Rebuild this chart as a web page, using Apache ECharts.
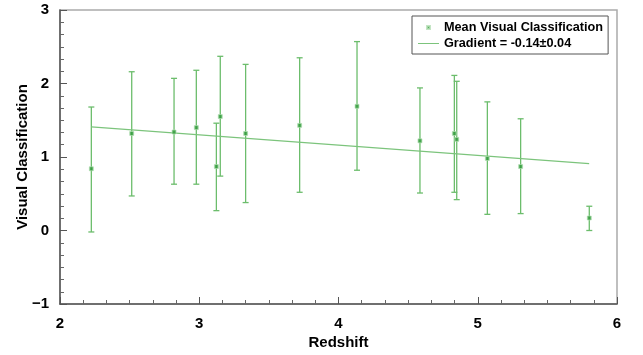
<!DOCTYPE html>
<html>
<head>
<meta charset="utf-8">
<script src="https://cdn.jsdelivr.net/npm/echarts@6/dist/echarts.min.js"></script>
<style>
html,body{margin:0;padding:0;background:#fff;}
#main{width:643px;height:355px;}
</style>
</head>
<body>
<div id="main"></div>
<script>
// 数据: 红移, 平均视觉分类, 误差上下限
var redshift = [2.225, 2.515, 2.819, 2.979, 3.123, 3.151, 3.333, 3.721, 4.133, 4.585, 4.832, 4.849, 5.069, 5.308, 5.801];
var meanClass = [0.84, 1.32, 1.34, 1.40, 0.87, 1.55, 1.32, 1.43, 1.69, 1.22, 1.32, 1.24, 0.98, 0.87, 0.17];
var upperErr = [1.68, 2.16, 2.07, 2.18, 1.46, 2.37, 2.26, 2.35, 2.57, 1.94, 2.11, 2.03, 1.75, 1.52, 0.33];
var lowerErr = [-0.02, 0.47, 0.63, 0.63, 0.27, 0.74, 0.38, 0.52, 0.82, 0.51, 0.52, 0.42, 0.22, 0.23, 0.00];
// 拟合直线端点
var fitLine = [[2.225, 1.41], [5.80, 0.91]];

var myChart = echarts.init(document.getElementById('main'));

var pts = [], bars = [];
for (var i = 0; i < redshift.length; i++) {
    pts.push([redshift[i], meanClass[i]]);
    bars.push([redshift[i], lowerErr[i], upperErr[i]]);
}

var font = 'Liberation Sans, Arial, Helvetica, sans-serif';
var axisCommon = {
    axisLine: {show: true, onZero: false, lineStyle: {color: '#555', width: 1.5}},
    axisTick: {show: true, inside: true, length: 7, lineStyle: {color: '#555'}},
    minorTick: {show: true, splitNumber: 6, length: 4, lineStyle: {color: '#666'}},
    splitLine: {show: false},
    axisLabel: {
        color: '#000', fontSize: 15, fontWeight: 'bold', fontFamily: font,
        formatter: function (v) { return String(v).replace('-', '\u2212'); }
    },
    nameTextStyle: {color: '#000', fontSize: 15, fontWeight: 'bold', fontFamily: font},
    nameLocation: 'middle',
    nameMoveOverlap: false
};

var option = {
    backgroundColor: '#fff',
    animation: false,
    grid: {
        left: 60, right: 26, top: 10, bottom: 51,
        containLabel: false, outerBoundsMode: 'none',
        show: true, borderColor: '#aaa', borderWidth: 1.5
    },
    legend: {
        left: 412, top: 16,
        orient: 'vertical',
        padding: [5, 5, 4, 5],
        itemGap: 3,
        itemWidth: 21, itemHeight: 10,
        borderColor: '#555', borderWidth: 1,
        backgroundColor: '#fff',
        textStyle: {color: '#000', fontSize: 12.7, fontWeight: 'bold', fontFamily: font},
        data: [
            {name: 'Mean Visual Classification', icon: 'path://M0,0 M21,10 M9,3.5h3v3h-3z'},
            {name: 'Gradient = -0.14\u00b10.04', icon: 'path://M0,0 M21,10 M0,4.5h21v1h-21z'}
        ]
    },
    xAxis: echarts.util.merge({
        type: 'value', min: 2, max: 6, interval: 1,
        name: 'Redshift', nameGap: 31,
        axisLabel: {margin: 12}
    }, axisCommon),
    yAxis: echarts.util.merge({
        type: 'value', min: -1, max: 3, interval: 1,
        name: 'Visual Classification', nameGap: 30,
        axisLabel: {margin: 11}
    }, axisCommon),
    series: [
        {
            name: 'errorbar',
            type: 'custom',
            data: bars,
            renderItem: function (params, api) {
                var x = api.value(0);
                var lo = api.coord([x, api.value(1)]);
                var hi = api.coord([x, api.value(2)]);
                var hw = 3;
                var st = {stroke: '#6cbd6c', lineWidth: 1.3};
                return {
                    type: 'group',
                    children: [
                        {type: 'line', shape: {x1: lo[0], y1: lo[1], x2: hi[0], y2: hi[1]}, style: st},
                        {type: 'line', shape: {x1: lo[0] - hw, y1: lo[1], x2: lo[0] + hw, y2: lo[1]}, style: st},
                        {type: 'line', shape: {x1: hi[0] - hw, y1: hi[1], x2: hi[0] + hw, y2: hi[1]}, style: st}
                    ]
                };
            },
            z: 2
        },
        {
            name: 'Gradient = -0.14\u00b10.04',
            type: 'line',
            data: fitLine,
            symbol: 'none',
            color: '#7cc47c',
            lineStyle: {color: '#7cc47c', width: 1.2},
            z: 3
        },
        {
            name: 'Mean Visual Classification',
            type: 'scatter',
            data: pts,
            symbol: 'rect',
            symbolSize: 4,
            itemStyle: {color: '#2f9a3a', borderColor: '#b5dfb5', borderWidth: 0.8},
            z: 4
        }
    ]
};
myChart.setOption(option);
</script>
</body>
</html>
